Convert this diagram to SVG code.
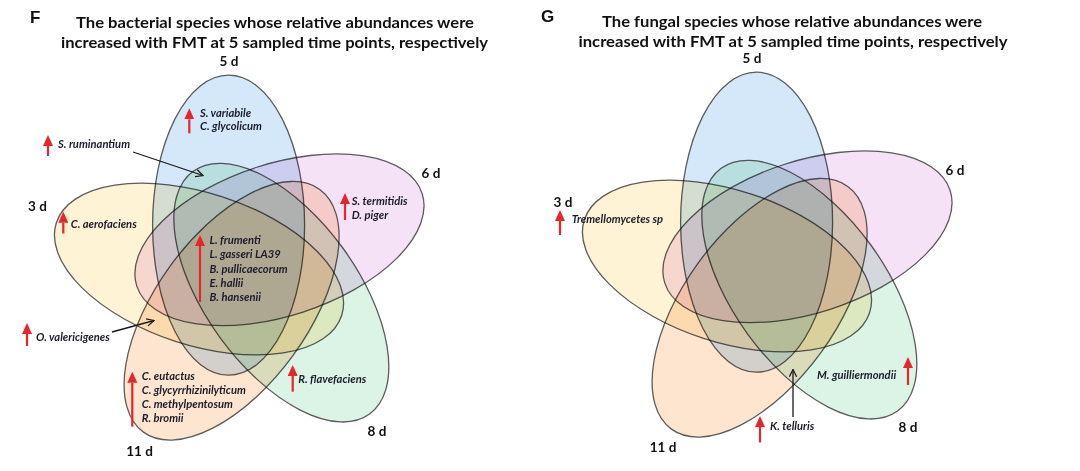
<svg xmlns="http://www.w3.org/2000/svg" width="1080" height="471" viewBox="0 0 1080 471">
<style>
.bg{fill:#ffffff}
.set{stroke:#5c5c5c;stroke-width:1.3;mix-blend-mode:multiply}
.s5{fill:#d5e8f9}
.s6{fill:#f6e2f6}
.s3{fill:#fef3d5}
.s8{fill:#dcf4e6}
.s11{fill:#fde5d0}
.title{font-family:Lato,"Liberation Sans",sans-serif;font-weight:bold;font-size:16px;fill:#111;text-anchor:middle}
.panel{font-family:"Liberation Sans",Arial,sans-serif;font-weight:bold;font-size:17px;fill:#111}
.setlabel{font-family:Lato,"Liberation Sans",sans-serif;font-weight:bold;font-size:13.5px;fill:#111;text-anchor:middle}
.sp{font-family:Lato,"Liberation Sans",sans-serif;font-weight:bold;font-style:italic;font-size:11.2px;fill:#1c1c2a}
.up{stroke:#e8242c;stroke-width:2.2;fill:none;marker-end:url(#redhead)}
.con{stroke:#1a1a1a;stroke-width:1.3;fill:none;marker-end:url(#openhead)}
</style>
<defs>
<marker id="redhead" viewBox="0 0 10 10" refX="0" refY="5" markerWidth="11" markerHeight="10" markerUnits="userSpaceOnUse" orient="auto" preserveAspectRatio="none">
<path d="M0,0 L10,5 L0,10 z" fill="#e8242c"/>
</marker>
<marker id="openhead" viewBox="0 0 10 10" refX="9" refY="5" markerWidth="9" markerHeight="9" markerUnits="userSpaceOnUse" orient="auto">
<path d="M1,1 L9,5 L1,9" fill="none" stroke="#1a1a1a" stroke-width="1.4"/>
</marker>
</defs>
<rect class="bg" x="0" y="0" width="1080" height="471"/>

<!-- Panel F -->
<g id="F-header">
<text class="panel" x="30" y="22.7">F</text>
<text class="title" x="275" y="28.3" textLength="398" lengthAdjust="spacingAndGlyphs">The bacterial species whose relative abundances were</text>
<text class="title" x="274.5" y="47.7" textLength="427" lengthAdjust="spacingAndGlyphs">increased with FMT at 5 sampled time points, respectively</text>
</g>
<g id="F-5d">
<ellipse class="set s5" cx="228.6" cy="225.2" rx="76" ry="150" transform="rotate(0 244 267.5)"/>
<text class="setlabel" x="229" y="66">5 d</text>
</g>
<g id="F-6d">
<ellipse class="set s6" cx="228.6" cy="225.2" rx="76" ry="150" transform="rotate(72 244 267.5)"/>
<text class="setlabel" x="431" y="177.5">6 d</text>
</g>
<g id="F-8d">
<ellipse class="set s8" cx="228.6" cy="225.2" rx="76" ry="150" transform="rotate(144 244 267.5)"/>
<text class="setlabel" x="377" y="436">8 d</text>
</g>
<g id="F-11d">
<ellipse class="set s11" cx="228.6" cy="225.2" rx="76" ry="150" transform="rotate(216 244 267.5)"/>
<text class="setlabel" x="139.5" y="455.5">11 d</text>
</g>
<g id="F-3d">
<ellipse class="set s3" cx="228.6" cy="225.2" rx="76" ry="150" transform="rotate(288 244 267.5)"/>
<text class="setlabel" x="37.5" y="211">3 d</text>
</g>

<g id="F-species">
<g id="F-sp-5d">
<path class="up" d="M189.3,133.3 V119.3"/>
<text class="sp" x="200" y="117.3">S. variabile</text>
<text class="sp" x="200" y="130">C. glycolicum</text>
</g>
<g id="F-sp-5d8d">
<path class="up" d="M48,156 V146"/>
<text class="sp" x="58" y="148">S. ruminantium</text>
</g>
<g id="F-sp-6d">
<path class="up" d="M345,220 V204"/>
<text class="sp" x="351.7" y="205">S. termitidis</text>
<text class="sp" x="351.7" y="219">D. piger</text>
</g>
<g id="F-sp-3d">
<path class="up" d="M63.3,233.5 V222.7"/>
<text class="sp" x="70.7" y="228.3">C. aerofaciens</text>
</g>
<g id="F-sp-all">
<path class="up" d="M200,302 V246"/>
<text class="sp" x="209.5" y="244">L. frumenti</text>
<text class="sp" x="209.5" y="258.3">L. gasseri LA39</text>
<text class="sp" x="209.5" y="272.6">B. pullicaecorum</text>
<text class="sp" x="209.5" y="286.9">E. hallii</text>
<text class="sp" x="209.5" y="301.2">B. hansenii</text>
</g>
<g id="F-sp-3d11d">
<path class="up" d="M27,346 V334"/>
<text class="sp" x="36" y="340.7">O. valericigenes</text>
</g>
<g id="F-sp-11d">
<path class="up" d="M132.3,426.7 V382.7"/>
<text class="sp" x="141.7" y="380">C. eutactus</text>
<text class="sp" x="141.7" y="394">C. glycyrrhizinilyticum</text>
<text class="sp" x="141.7" y="408">C. methylpentosum</text>
<text class="sp" x="141.7" y="421.7">R. bromii</text>
</g>
<g id="F-sp-8d">
<path class="up" d="M292.7,391.7 V376"/>
<text class="sp" x="298.3" y="382.7">R. flavefaciens</text>
</g>
</g>

<!-- Panel G -->
<g id="G-header">
<text class="panel" x="541" y="21.5">G</text>
<text class="title" x="792" y="27" textLength="380" lengthAdjust="spacingAndGlyphs">The fungal species whose relative abundances were</text>
<text class="title" x="793" y="46.5" textLength="429" lengthAdjust="spacingAndGlyphs">increased with FMT at 5 sampled time points, respectively</text>
</g>
<g id="G-5d">
<ellipse class="set s5" cx="756.6" cy="222.2" rx="76" ry="150" transform="rotate(0 772 264.5)"/>
<text class="setlabel" x="752" y="63">5 d</text>
</g>
<g id="G-6d">
<ellipse class="set s6" cx="756.6" cy="222.2" rx="76" ry="150" transform="rotate(72 772 264.5)"/>
<text class="setlabel" x="955" y="174.5">6 d</text>
</g>
<g id="G-8d">
<ellipse class="set s8" cx="756.6" cy="222.2" rx="76" ry="150" transform="rotate(144 772 264.5)"/>
<text class="setlabel" x="908" y="432">8 d</text>
</g>
<g id="G-11d">
<ellipse class="set s11" cx="756.6" cy="222.2" rx="76" ry="150" transform="rotate(216 772 264.5)"/>
<text class="setlabel" x="663" y="452">11 d</text>
</g>
<g id="G-3d">
<ellipse class="set s3" cx="756.6" cy="222.2" rx="76" ry="150" transform="rotate(288 772 264.5)"/>
<text class="setlabel" x="563" y="207">3 d</text>
</g>

<g id="G-species">
<g id="G-sp-3d">
<path class="up" d="M560,235 V221"/>
<text class="sp" x="571.7" y="223">Tremellomycetes sp</text>
</g>
<g id="G-sp-8d">
<path class="up" d="M908,385 V368"/>
<text class="sp" x="817" y="379">M. guilliermondii</text>
</g>
<g id="G-sp-8d11d">
<path class="up" d="M760,442.5 V427"/>
<text class="sp" x="770" y="430">K. telluris</text>
</g>
</g>

<g id="connectors">
<path class="con" d="M133,152 L203,175.5"/>
<path class="con" d="M112,332 L154,320.5"/>
<path class="con" d="M793,417 L793,369.5"/>
</g>
</svg>
